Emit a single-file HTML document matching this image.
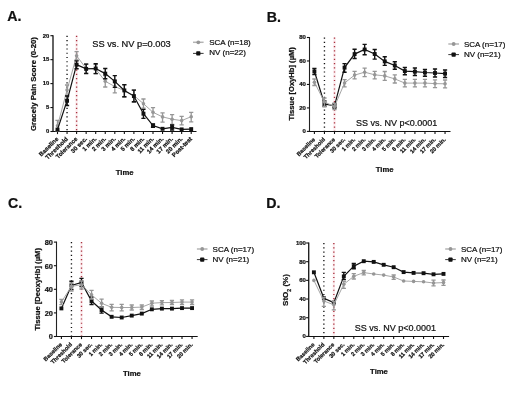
<!DOCTYPE html>
<html><head><meta charset="utf-8"><style>
html,body{margin:0;padding:0;background:#fff;}
svg{display:block;font-family:"Liberation Sans", sans-serif;will-change:transform;} text{stroke:#111;stroke-width:0.22px;} text.b{stroke-width:0.12px;}
</style></head><body>
<svg width="520" height="393" viewBox="0 0 520 393" fill="#111">
<rect width="520" height="393" fill="#fff"/>
<text x="7.2" y="20.7" font-size="14.2" font-weight="bold">A.</text>
<line x1="67.05" y1="35.7" x2="67.05" y2="131.5" stroke="#111" stroke-width="1.35" stroke-dasharray="1.2 3.04"/>
<line x1="76.6" y1="35.7" x2="76.6" y2="131.5" stroke="#fcedef" stroke-width="2.4"/>
<line x1="76.6" y1="35.7" x2="76.6" y2="131.5" stroke="#a8303e" stroke-width="1.35" stroke-dasharray="1.2 3.04"/>
<path d="M53 35.2V131.5" fill="none" stroke="#222" stroke-width="1.4"/>
<path d="M52.5 131.5H196.5" fill="none" stroke="#111" stroke-width="1.05"/>
<line x1="50.4" y1="131.5" x2="53" y2="131.5" stroke="#111" stroke-width="1.1"/>
<text x="49.4" y="133.33" font-size="5.9" font-weight="bold" text-anchor="end">0</text>
<line x1="50.4" y1="107.55" x2="53" y2="107.55" stroke="#111" stroke-width="1.1"/>
<text x="49.4" y="109.38" font-size="5.9" font-weight="bold" text-anchor="end">5</text>
<line x1="50.4" y1="83.6" x2="53" y2="83.6" stroke="#111" stroke-width="1.1"/>
<text x="49.4" y="85.43" font-size="5.9" font-weight="bold" text-anchor="end">10</text>
<line x1="50.4" y1="59.65" x2="53" y2="59.65" stroke="#111" stroke-width="1.1"/>
<text x="49.4" y="61.48" font-size="5.9" font-weight="bold" text-anchor="end">15</text>
<line x1="50.4" y1="35.7" x2="53" y2="35.7" stroke="#111" stroke-width="1.1"/>
<text x="49.4" y="37.53" font-size="5.9" font-weight="bold" text-anchor="end">20</text>
<line x1="57.5" y1="131.5" x2="57.5" y2="134.1" stroke="#111" stroke-width="1.1"/>
<line x1="67.05" y1="131.5" x2="67.05" y2="134.1" stroke="#111" stroke-width="1.1"/>
<line x1="76.6" y1="131.5" x2="76.6" y2="134.1" stroke="#111" stroke-width="1.1"/>
<line x1="86.15" y1="131.5" x2="86.15" y2="134.1" stroke="#111" stroke-width="1.1"/>
<line x1="95.7" y1="131.5" x2="95.7" y2="134.1" stroke="#111" stroke-width="1.1"/>
<line x1="105.25" y1="131.5" x2="105.25" y2="134.1" stroke="#111" stroke-width="1.1"/>
<line x1="114.8" y1="131.5" x2="114.8" y2="134.1" stroke="#111" stroke-width="1.1"/>
<line x1="124.35" y1="131.5" x2="124.35" y2="134.1" stroke="#111" stroke-width="1.1"/>
<line x1="133.9" y1="131.5" x2="133.9" y2="134.1" stroke="#111" stroke-width="1.1"/>
<line x1="143.45" y1="131.5" x2="143.45" y2="134.1" stroke="#111" stroke-width="1.1"/>
<line x1="153" y1="131.5" x2="153" y2="134.1" stroke="#111" stroke-width="1.1"/>
<line x1="162.55" y1="131.5" x2="162.55" y2="134.1" stroke="#111" stroke-width="1.1"/>
<line x1="172.1" y1="131.5" x2="172.1" y2="134.1" stroke="#111" stroke-width="1.1"/>
<line x1="181.65" y1="131.5" x2="181.65" y2="134.1" stroke="#111" stroke-width="1.1"/>
<line x1="191.2" y1="131.5" x2="191.2" y2="134.1" stroke="#111" stroke-width="1.1"/>
<text transform="translate(58.8 139.3) rotate(-45)" font-size="6.0" font-weight="bold" text-anchor="end">Baseline</text>
<text transform="translate(68.35 139.3) rotate(-45)" font-size="6.0" font-weight="bold" text-anchor="end">Threshold</text>
<text transform="translate(77.9 139.3) rotate(-45)" font-size="6.0" font-weight="bold" text-anchor="end">Tolerance</text>
<text transform="translate(87.45 139.3) rotate(-45)" font-size="6.0" font-weight="bold" text-anchor="end">30 sec.</text>
<text transform="translate(97 139.3) rotate(-45)" font-size="6.0" font-weight="bold" text-anchor="end">1 min.</text>
<text transform="translate(106.55 139.3) rotate(-45)" font-size="6.0" font-weight="bold" text-anchor="end">2 min.</text>
<text transform="translate(116.1 139.3) rotate(-45)" font-size="6.0" font-weight="bold" text-anchor="end">3 min.</text>
<text transform="translate(125.65 139.3) rotate(-45)" font-size="6.0" font-weight="bold" text-anchor="end">4 min.</text>
<text transform="translate(135.2 139.3) rotate(-45)" font-size="6.0" font-weight="bold" text-anchor="end">5 min.</text>
<text transform="translate(144.75 139.3) rotate(-45)" font-size="6.0" font-weight="bold" text-anchor="end">8 min.</text>
<text transform="translate(154.3 139.3) rotate(-45)" font-size="6.0" font-weight="bold" text-anchor="end">11 min.</text>
<text transform="translate(163.85 139.3) rotate(-45)" font-size="6.0" font-weight="bold" text-anchor="end">14 min.</text>
<text transform="translate(173.4 139.3) rotate(-45)" font-size="6.0" font-weight="bold" text-anchor="end">17 min.</text>
<text transform="translate(182.95 139.3) rotate(-45)" font-size="6.0" font-weight="bold" text-anchor="end">20 min.</text>
<text transform="translate(192.5 139.3) rotate(-45)" font-size="6.0" font-weight="bold" text-anchor="end">Post-test</text>
<polyline points="57.5,125.8 67.05,90 76.6,55.8 86.15,68.5 95.7,69 105.25,81.3 114.8,86.5 124.35,90.6 133.9,95.5 143.45,103.7 153,112.3 162.55,116.9 172.1,119.2 181.65,120.6 191.2,116.7" fill="none" stroke="#a6a6a6" stroke-width="1.0"/>
<path d="M57.5 120.4V131M55.4 120.4H59.6M55.4 131H59.6" stroke="#969696" stroke-width="1.3" fill="none"/>
<circle cx="57.5" cy="125.8" r="1.8" fill="#969696"/>
<path d="M67.05 85V95.5M64.95 85H69.15M64.95 95.5H69.15" stroke="#969696" stroke-width="1.3" fill="none"/>
<circle cx="67.05" cy="90" r="1.8" fill="#969696"/>
<path d="M76.6 51.6V60M74.5 51.6H78.7M74.5 60H78.7" stroke="#969696" stroke-width="1.3" fill="none"/>
<circle cx="76.6" cy="55.8" r="1.8" fill="#969696"/>
<path d="M86.15 64V73M84.05 64H88.25M84.05 73H88.25" stroke="#969696" stroke-width="1.3" fill="none"/>
<circle cx="86.15" cy="68.5" r="1.8" fill="#969696"/>
<path d="M95.7 64.5V73.5M93.6 64.5H97.8M93.6 73.5H97.8" stroke="#969696" stroke-width="1.3" fill="none"/>
<circle cx="95.7" cy="69" r="1.8" fill="#969696"/>
<path d="M105.25 75.6V87M103.15 75.6H107.35M103.15 87H107.35" stroke="#969696" stroke-width="1.3" fill="none"/>
<circle cx="105.25" cy="81.3" r="1.8" fill="#969696"/>
<path d="M114.8 80.5V92.9M112.7 80.5H116.9M112.7 92.9H116.9" stroke="#969696" stroke-width="1.3" fill="none"/>
<circle cx="114.8" cy="86.5" r="1.8" fill="#969696"/>
<path d="M124.35 85V97M122.25 85H126.45M122.25 97H126.45" stroke="#969696" stroke-width="1.3" fill="none"/>
<circle cx="124.35" cy="90.6" r="1.8" fill="#969696"/>
<path d="M133.9 90V102.4M131.8 90H136M131.8 102.4H136" stroke="#969696" stroke-width="1.3" fill="none"/>
<circle cx="133.9" cy="95.5" r="1.8" fill="#969696"/>
<path d="M143.45 99V108.2M141.35 99H145.55M141.35 108.2H145.55" stroke="#969696" stroke-width="1.3" fill="none"/>
<circle cx="143.45" cy="103.7" r="1.8" fill="#969696"/>
<path d="M153 107.7V116.9M150.9 107.7H155.1M150.9 116.9H155.1" stroke="#969696" stroke-width="1.3" fill="none"/>
<circle cx="153" cy="112.3" r="1.8" fill="#969696"/>
<path d="M162.55 112.9V122.1M160.45 112.9H164.65M160.45 122.1H164.65" stroke="#969696" stroke-width="1.3" fill="none"/>
<circle cx="162.55" cy="116.9" r="1.8" fill="#969696"/>
<path d="M172.1 114.6V124.4M170 114.6H174.2M170 124.4H174.2" stroke="#969696" stroke-width="1.3" fill="none"/>
<circle cx="172.1" cy="119.2" r="1.8" fill="#969696"/>
<path d="M181.65 116.3V124.8M179.55 116.3H183.75M179.55 124.8H183.75" stroke="#969696" stroke-width="1.3" fill="none"/>
<circle cx="181.65" cy="120.6" r="1.8" fill="#969696"/>
<path d="M191.2 112.3V121.8M189.1 112.3H193.3M189.1 121.8H193.3" stroke="#969696" stroke-width="1.3" fill="none"/>
<circle cx="191.2" cy="116.7" r="1.8" fill="#969696"/>
<polyline points="57.5,129.6 67.05,100.8 76.6,64.7 86.15,68.9 95.7,68.5 105.25,73.6 114.8,81.4 124.35,90.4 133.9,96.1 143.45,113.7 153,125.6 162.55,128.8 172.1,127.3 181.65,129.4 191.2,129.1" fill="none" stroke="#111" stroke-width="1.2"/>
<rect x="55.55" y="127.65" width="3.9" height="3.9" fill="#111"/>
<path d="M67.05 96V105.5M64.95 96H69.15M64.95 105.5H69.15" stroke="#111" stroke-width="1.4" fill="none"/>
<rect x="65.1" y="98.85" width="3.9" height="3.9" fill="#111"/>
<path d="M76.6 60.9V68.8M74.5 60.9H78.7M74.5 68.8H78.7" stroke="#111" stroke-width="1.4" fill="none"/>
<rect x="74.65" y="62.75" width="3.9" height="3.9" fill="#111"/>
<path d="M86.15 64.1V73.6M84.05 64.1H88.25M84.05 73.6H88.25" stroke="#111" stroke-width="1.4" fill="none"/>
<rect x="84.2" y="66.95" width="3.9" height="3.9" fill="#111"/>
<path d="M95.7 63.7V73.6M93.6 63.7H97.8M93.6 73.6H97.8" stroke="#111" stroke-width="1.4" fill="none"/>
<rect x="93.75" y="66.55" width="3.9" height="3.9" fill="#111"/>
<path d="M105.25 68.5V78.7M103.15 68.5H107.35M103.15 78.7H107.35" stroke="#111" stroke-width="1.4" fill="none"/>
<rect x="103.3" y="71.65" width="3.9" height="3.9" fill="#111"/>
<path d="M114.8 75.6V87.4M112.7 75.6H116.9M112.7 87.4H116.9" stroke="#111" stroke-width="1.4" fill="none"/>
<rect x="112.85" y="79.45" width="3.9" height="3.9" fill="#111"/>
<path d="M124.35 84.6V96.7M122.25 84.6H126.45M122.25 96.7H126.45" stroke="#111" stroke-width="1.4" fill="none"/>
<rect x="122.4" y="88.45" width="3.9" height="3.9" fill="#111"/>
<path d="M133.9 90.1V101.8M131.8 90.1H136M131.8 101.8H136" stroke="#111" stroke-width="1.4" fill="none"/>
<rect x="131.95" y="94.15" width="3.9" height="3.9" fill="#111"/>
<path d="M143.45 109.4V118.4M141.35 109.4H145.55M141.35 118.4H145.55" stroke="#111" stroke-width="1.4" fill="none"/>
<rect x="141.5" y="111.75" width="3.9" height="3.9" fill="#111"/>
<path d="M153 124V127.2M150.9 124H155.1M150.9 127.2H155.1" stroke="#111" stroke-width="1.4" fill="none"/>
<rect x="151.05" y="123.65" width="3.9" height="3.9" fill="#111"/>
<rect x="160.6" y="126.85" width="3.9" height="3.9" fill="#111"/>
<path d="M172.1 125V130M170 125H174.2M170 130H174.2" stroke="#111" stroke-width="1.4" fill="none"/>
<rect x="170.15" y="125.35" width="3.9" height="3.9" fill="#111"/>
<rect x="179.7" y="127.45" width="3.9" height="3.9" fill="#111"/>
<rect x="189.25" y="127.15" width="3.9" height="3.9" fill="#111"/>
<line x1="193" y1="42.3" x2="203.6" y2="42.3" stroke="#b4b4b4" stroke-width="1.5"/>
<circle cx="198.3" cy="42.3" r="1.9" fill="#969696"/>
<line x1="193" y1="53.4" x2="203.6" y2="53.4" stroke="#222" stroke-width="0.9"/>
<rect x="196.2" y="51.3" width="4.2" height="4.2" rx="0.8" fill="#111"/>
<text x="209.2" y="44.7" font-size="8">SCA (n=18)</text>
<text x="209.2" y="55.2" font-size="8">NV (n=22)</text>
<text x="92.3" y="47.3" font-size="9.25">SS vs. NV p=0.003</text>
<text transform="translate(35.9 84.1) rotate(-90)" font-size="7.8" font-weight="bold" text-anchor="middle">Gracely Pain Score (0-20)</text>
<text x="124.6" y="174.8" font-size="7.7" font-weight="bold" text-anchor="middle">Time</text>
<text x="266.7" y="21.7" font-size="14.2" font-weight="bold">B.</text>
<line x1="324.45" y1="37.5" x2="324.45" y2="131.4" stroke="#111" stroke-width="1.35" stroke-dasharray="1.2 3.04"/>
<line x1="334.5" y1="37.5" x2="334.5" y2="131.4" stroke="#fcedef" stroke-width="2.4"/>
<line x1="334.5" y1="37.5" x2="334.5" y2="131.4" stroke="#a8303e" stroke-width="1.35" stroke-dasharray="1.2 3.04"/>
<path d="M309.5 37V131.4" fill="none" stroke="#222" stroke-width="1.1"/>
<path d="M309 131.4H450.5" fill="none" stroke="#111" stroke-width="1.05"/>
<line x1="306.9" y1="131.4" x2="309.5" y2="131.4" stroke="#111" stroke-width="1.1"/>
<text x="305.9" y="133.26" font-size="6.0" font-weight="bold" text-anchor="end">0</text>
<line x1="306.9" y1="107.93" x2="309.5" y2="107.93" stroke="#111" stroke-width="1.1"/>
<text x="305.9" y="109.79" font-size="6.0" font-weight="bold" text-anchor="end">20</text>
<line x1="306.9" y1="84.45" x2="309.5" y2="84.45" stroke="#111" stroke-width="1.1"/>
<text x="305.9" y="86.31" font-size="6.0" font-weight="bold" text-anchor="end">40</text>
<line x1="306.9" y1="60.97" x2="309.5" y2="60.97" stroke="#111" stroke-width="1.1"/>
<text x="305.9" y="62.83" font-size="6.0" font-weight="bold" text-anchor="end">60</text>
<line x1="306.9" y1="37.5" x2="309.5" y2="37.5" stroke="#111" stroke-width="1.1"/>
<text x="305.9" y="39.36" font-size="6.0" font-weight="bold" text-anchor="end">80</text>
<line x1="314.4" y1="131.4" x2="314.4" y2="134" stroke="#111" stroke-width="1.1"/>
<line x1="324.45" y1="131.4" x2="324.45" y2="134" stroke="#111" stroke-width="1.1"/>
<line x1="334.5" y1="131.4" x2="334.5" y2="134" stroke="#111" stroke-width="1.1"/>
<line x1="344.55" y1="131.4" x2="344.55" y2="134" stroke="#111" stroke-width="1.1"/>
<line x1="354.6" y1="131.4" x2="354.6" y2="134" stroke="#111" stroke-width="1.1"/>
<line x1="364.65" y1="131.4" x2="364.65" y2="134" stroke="#111" stroke-width="1.1"/>
<line x1="374.7" y1="131.4" x2="374.7" y2="134" stroke="#111" stroke-width="1.1"/>
<line x1="384.75" y1="131.4" x2="384.75" y2="134" stroke="#111" stroke-width="1.1"/>
<line x1="394.8" y1="131.4" x2="394.8" y2="134" stroke="#111" stroke-width="1.1"/>
<line x1="404.85" y1="131.4" x2="404.85" y2="134" stroke="#111" stroke-width="1.1"/>
<line x1="414.9" y1="131.4" x2="414.9" y2="134" stroke="#111" stroke-width="1.1"/>
<line x1="424.95" y1="131.4" x2="424.95" y2="134" stroke="#111" stroke-width="1.1"/>
<line x1="435" y1="131.4" x2="435" y2="134" stroke="#111" stroke-width="1.1"/>
<line x1="445.05" y1="131.4" x2="445.05" y2="134" stroke="#111" stroke-width="1.1"/>
<text transform="translate(315.5 139.9) rotate(-45)" font-size="5.7" font-weight="bold" text-anchor="end">Baseline</text>
<text transform="translate(325.55 139.9) rotate(-45)" font-size="5.7" font-weight="bold" text-anchor="end">Threshold</text>
<text transform="translate(335.6 139.9) rotate(-45)" font-size="5.7" font-weight="bold" text-anchor="end">Tolerance</text>
<text transform="translate(345.65 139.9) rotate(-45)" font-size="5.7" font-weight="bold" text-anchor="end">30 sec.</text>
<text transform="translate(355.7 139.9) rotate(-45)" font-size="5.7" font-weight="bold" text-anchor="end">1 min.</text>
<text transform="translate(365.75 139.9) rotate(-45)" font-size="5.7" font-weight="bold" text-anchor="end">2 min.</text>
<text transform="translate(375.8 139.9) rotate(-45)" font-size="5.7" font-weight="bold" text-anchor="end">3 min.</text>
<text transform="translate(385.85 139.9) rotate(-45)" font-size="5.7" font-weight="bold" text-anchor="end">4 min.</text>
<text transform="translate(395.9 139.9) rotate(-45)" font-size="5.7" font-weight="bold" text-anchor="end">5 min.</text>
<text transform="translate(405.95 139.9) rotate(-45)" font-size="5.7" font-weight="bold" text-anchor="end">8 min.</text>
<text transform="translate(416 139.9) rotate(-45)" font-size="5.7" font-weight="bold" text-anchor="end">11 min.</text>
<text transform="translate(426.05 139.9) rotate(-45)" font-size="5.7" font-weight="bold" text-anchor="end">14 min.</text>
<text transform="translate(436.1 139.9) rotate(-45)" font-size="5.7" font-weight="bold" text-anchor="end">17 min.</text>
<text transform="translate(446.15 139.9) rotate(-45)" font-size="5.7" font-weight="bold" text-anchor="end">20 min.</text>
<polyline points="314.4,71.3 324.45,104 334.5,105.8 344.55,67.6 354.6,54.1 364.65,49.5 374.7,54 384.75,61.4 394.8,65.5 404.85,71.1 414.9,71.7 424.95,72.5 435,73 445.05,73.6" fill="none" stroke="#111" stroke-width="1.2"/>
<path d="M314.4 68.4V74.5M312.3 68.4H316.5M312.3 74.5H316.5" stroke="#111" stroke-width="1.4" fill="none"/>
<rect x="312.45" y="69.35" width="3.9" height="3.9" fill="#111"/>
<path d="M324.45 101V106.5M322.35 101H326.55M322.35 106.5H326.55" stroke="#111" stroke-width="1.4" fill="none"/>
<rect x="322.5" y="102.05" width="3.9" height="3.9" fill="#111"/>
<path d="M334.5 103.5V108M332.4 103.5H336.6M332.4 108H336.6" stroke="#111" stroke-width="1.4" fill="none"/>
<rect x="332.55" y="103.85" width="3.9" height="3.9" fill="#111"/>
<path d="M344.55 63.6V72.2M342.45 63.6H346.65M342.45 72.2H346.65" stroke="#111" stroke-width="1.4" fill="none"/>
<rect x="342.6" y="65.65" width="3.9" height="3.9" fill="#111"/>
<path d="M354.6 49.2V58.5M352.5 49.2H356.7M352.5 58.5H356.7" stroke="#111" stroke-width="1.4" fill="none"/>
<rect x="352.65" y="52.15" width="3.9" height="3.9" fill="#111"/>
<path d="M364.65 44.4V54.8M362.55 44.4H366.75M362.55 54.8H366.75" stroke="#111" stroke-width="1.4" fill="none"/>
<rect x="362.7" y="47.55" width="3.9" height="3.9" fill="#111"/>
<path d="M374.7 49.5V59.1M372.6 49.5H376.8M372.6 59.1H376.8" stroke="#111" stroke-width="1.4" fill="none"/>
<rect x="372.75" y="52.05" width="3.9" height="3.9" fill="#111"/>
<path d="M384.75 56.8V65.4M382.65 56.8H386.85M382.65 65.4H386.85" stroke="#111" stroke-width="1.4" fill="none"/>
<rect x="382.8" y="59.45" width="3.9" height="3.9" fill="#111"/>
<path d="M394.8 61.7V69.3M392.7 61.7H396.9M392.7 69.3H396.9" stroke="#111" stroke-width="1.4" fill="none"/>
<rect x="392.85" y="63.55" width="3.9" height="3.9" fill="#111"/>
<path d="M404.85 67.5V74.8M402.75 67.5H406.95M402.75 74.8H406.95" stroke="#111" stroke-width="1.4" fill="none"/>
<rect x="402.9" y="69.15" width="3.9" height="3.9" fill="#111"/>
<path d="M414.9 68V75.5M412.8 68H417M412.8 75.5H417" stroke="#111" stroke-width="1.4" fill="none"/>
<rect x="412.95" y="69.75" width="3.9" height="3.9" fill="#111"/>
<path d="M424.95 69.4V76.3M422.85 69.4H427.05M422.85 76.3H427.05" stroke="#111" stroke-width="1.4" fill="none"/>
<rect x="423" y="70.55" width="3.9" height="3.9" fill="#111"/>
<path d="M435 69V77M432.9 69H437.1M432.9 77H437.1" stroke="#111" stroke-width="1.4" fill="none"/>
<rect x="433.05" y="71.05" width="3.9" height="3.9" fill="#111"/>
<path d="M445.05 70V77.5M442.95 70H447.15M442.95 77.5H447.15" stroke="#111" stroke-width="1.4" fill="none"/>
<rect x="443.1" y="71.65" width="3.9" height="3.9" fill="#111"/>
<polyline points="314.4,82.2 324.45,102 334.5,106.5 344.55,83 354.6,75.1 364.65,72.2 374.7,74.8 384.75,75.9 394.8,78.9 404.85,83.1 414.9,83.1 424.95,83.1 435,83.6 445.05,83.8" fill="none" stroke="#a6a6a6" stroke-width="1.0"/>
<path d="M314.4 79V85.5M312.3 79H316.5M312.3 85.5H316.5" stroke="#969696" stroke-width="1.3" fill="none"/>
<circle cx="314.4" cy="82.2" r="1.8" fill="#969696"/>
<path d="M324.45 98V106.4M322.35 98H326.55M322.35 106.4H326.55" stroke="#969696" stroke-width="1.3" fill="none"/>
<circle cx="324.45" cy="102" r="1.8" fill="#969696"/>
<path d="M334.5 103.6V109.6M332.4 103.6H336.6M332.4 109.6H336.6" stroke="#969696" stroke-width="1.3" fill="none"/>
<circle cx="334.5" cy="106.5" r="1.8" fill="#969696"/>
<path d="M344.55 79.6V86.8M342.45 79.6H346.65M342.45 86.8H346.65" stroke="#969696" stroke-width="1.3" fill="none"/>
<circle cx="344.55" cy="83" r="1.8" fill="#969696"/>
<path d="M354.6 71.3V78.9M352.5 71.3H356.7M352.5 78.9H356.7" stroke="#969696" stroke-width="1.3" fill="none"/>
<circle cx="354.6" cy="75.1" r="1.8" fill="#969696"/>
<path d="M364.65 68.2V76.6M362.55 68.2H366.75M362.55 76.6H366.75" stroke="#969696" stroke-width="1.3" fill="none"/>
<circle cx="364.65" cy="72.2" r="1.8" fill="#969696"/>
<path d="M374.7 71.3V78.9M372.6 71.3H376.8M372.6 78.9H376.8" stroke="#969696" stroke-width="1.3" fill="none"/>
<circle cx="374.7" cy="74.8" r="1.8" fill="#969696"/>
<path d="M384.75 71.5V80.3M382.65 71.5H386.85M382.65 80.3H386.85" stroke="#969696" stroke-width="1.3" fill="none"/>
<circle cx="384.75" cy="75.9" r="1.8" fill="#969696"/>
<path d="M394.8 74.8V83M392.7 74.8H396.9M392.7 83H396.9" stroke="#969696" stroke-width="1.3" fill="none"/>
<circle cx="394.8" cy="78.9" r="1.8" fill="#969696"/>
<path d="M404.85 79.4V86.9M402.75 79.4H406.95M402.75 86.9H406.95" stroke="#969696" stroke-width="1.3" fill="none"/>
<circle cx="404.85" cy="83.1" r="1.8" fill="#969696"/>
<path d="M414.9 79.4V86.9M412.8 79.4H417M412.8 86.9H417" stroke="#969696" stroke-width="1.3" fill="none"/>
<circle cx="414.9" cy="83.1" r="1.8" fill="#969696"/>
<path d="M424.95 79.4V86.9M422.85 79.4H427.05M422.85 86.9H427.05" stroke="#969696" stroke-width="1.3" fill="none"/>
<circle cx="424.95" cy="83.1" r="1.8" fill="#969696"/>
<path d="M435 79.8V87.6M432.9 79.8H437.1M432.9 87.6H437.1" stroke="#969696" stroke-width="1.3" fill="none"/>
<circle cx="435" cy="83.6" r="1.8" fill="#969696"/>
<path d="M445.05 80V87.8M442.95 80H447.15M442.95 87.8H447.15" stroke="#969696" stroke-width="1.3" fill="none"/>
<circle cx="445.05" cy="83.8" r="1.8" fill="#969696"/>
<line x1="448.3" y1="44" x2="459" y2="44" stroke="#b4b4b4" stroke-width="1.5"/>
<circle cx="453.65" cy="44" r="1.9" fill="#969696"/>
<line x1="448.3" y1="54.6" x2="459" y2="54.6" stroke="#222" stroke-width="0.9"/>
<rect x="451.55" y="52.5" width="4.2" height="4.2" rx="0.8" fill="#111"/>
<text x="463.9" y="46.7" font-size="8">SCA (n=17)</text>
<text x="463.9" y="57.2" font-size="8">NV (n=21)</text>
<text x="356" y="125.7" font-size="9">SS vs. NV p&lt;0.0001</text>
<text transform="translate(294.2 83.85) rotate(-90)" font-size="7.6" font-weight="bold" text-anchor="middle">Tissue [OxyHb] (µM)</text>
<text x="384.7" y="171.8" font-size="7.7" font-weight="bold" text-anchor="middle">Time</text>
<text x="7.9" y="208.4" font-size="14.2" font-weight="bold">C.</text>
<line x1="71.45" y1="242.1" x2="71.45" y2="336.5" stroke="#111" stroke-width="1.35" stroke-dasharray="1.2 3.04"/>
<line x1="81.5" y1="242.1" x2="81.5" y2="336.5" stroke="#fcedef" stroke-width="2.4"/>
<line x1="81.5" y1="242.1" x2="81.5" y2="336.5" stroke="#a8303e" stroke-width="1.35" stroke-dasharray="1.2 3.04"/>
<path d="M56.5 241.6V336.5" fill="none" stroke="#222" stroke-width="1.1"/>
<path d="M56 336.5H197.7" fill="none" stroke="#111" stroke-width="1.05"/>
<line x1="53.9" y1="336.5" x2="56.5" y2="336.5" stroke="#111" stroke-width="1.1"/>
<text x="52.9" y="339.39" font-size="7.4" font-weight="bold" text-anchor="end">0</text>
<line x1="53.9" y1="312.9" x2="56.5" y2="312.9" stroke="#111" stroke-width="1.1"/>
<text x="52.9" y="315.79" font-size="7.4" font-weight="bold" text-anchor="end">20</text>
<line x1="53.9" y1="289.3" x2="56.5" y2="289.3" stroke="#111" stroke-width="1.1"/>
<text x="52.9" y="292.19" font-size="7.4" font-weight="bold" text-anchor="end">40</text>
<line x1="53.9" y1="265.7" x2="56.5" y2="265.7" stroke="#111" stroke-width="1.1"/>
<text x="52.9" y="268.59" font-size="7.4" font-weight="bold" text-anchor="end">60</text>
<line x1="53.9" y1="242.1" x2="56.5" y2="242.1" stroke="#111" stroke-width="1.1"/>
<text x="52.9" y="244.99" font-size="7.4" font-weight="bold" text-anchor="end">80</text>
<line x1="61.4" y1="336.5" x2="61.4" y2="339.1" stroke="#111" stroke-width="1.1"/>
<line x1="71.45" y1="336.5" x2="71.45" y2="339.1" stroke="#111" stroke-width="1.1"/>
<line x1="81.5" y1="336.5" x2="81.5" y2="339.1" stroke="#111" stroke-width="1.1"/>
<line x1="91.55" y1="336.5" x2="91.55" y2="339.1" stroke="#111" stroke-width="1.1"/>
<line x1="101.6" y1="336.5" x2="101.6" y2="339.1" stroke="#111" stroke-width="1.1"/>
<line x1="111.65" y1="336.5" x2="111.65" y2="339.1" stroke="#111" stroke-width="1.1"/>
<line x1="121.7" y1="336.5" x2="121.7" y2="339.1" stroke="#111" stroke-width="1.1"/>
<line x1="131.75" y1="336.5" x2="131.75" y2="339.1" stroke="#111" stroke-width="1.1"/>
<line x1="141.8" y1="336.5" x2="141.8" y2="339.1" stroke="#111" stroke-width="1.1"/>
<line x1="151.85" y1="336.5" x2="151.85" y2="339.1" stroke="#111" stroke-width="1.1"/>
<line x1="161.9" y1="336.5" x2="161.9" y2="339.1" stroke="#111" stroke-width="1.1"/>
<line x1="171.95" y1="336.5" x2="171.95" y2="339.1" stroke="#111" stroke-width="1.1"/>
<line x1="182" y1="336.5" x2="182" y2="339.1" stroke="#111" stroke-width="1.1"/>
<line x1="192.05" y1="336.5" x2="192.05" y2="339.1" stroke="#111" stroke-width="1.1"/>
<text transform="translate(62.4 344.9) rotate(-45)" font-size="5.7" font-weight="bold" text-anchor="end">Baseline</text>
<text transform="translate(72.45 344.9) rotate(-45)" font-size="5.7" font-weight="bold" text-anchor="end">Threshold</text>
<text transform="translate(82.5 344.9) rotate(-45)" font-size="5.7" font-weight="bold" text-anchor="end">Tolerance</text>
<text transform="translate(92.55 344.9) rotate(-45)" font-size="5.7" font-weight="bold" text-anchor="end">30 sec.</text>
<text transform="translate(102.6 344.9) rotate(-45)" font-size="5.7" font-weight="bold" text-anchor="end">1 min.</text>
<text transform="translate(112.65 344.9) rotate(-45)" font-size="5.7" font-weight="bold" text-anchor="end">2 min.</text>
<text transform="translate(122.7 344.9) rotate(-45)" font-size="5.7" font-weight="bold" text-anchor="end">3 min.</text>
<text transform="translate(132.75 344.9) rotate(-45)" font-size="5.7" font-weight="bold" text-anchor="end">4 min.</text>
<text transform="translate(142.8 344.9) rotate(-45)" font-size="5.7" font-weight="bold" text-anchor="end">5 min.</text>
<text transform="translate(152.85 344.9) rotate(-45)" font-size="5.7" font-weight="bold" text-anchor="end">8 min.</text>
<text transform="translate(162.9 344.9) rotate(-45)" font-size="5.7" font-weight="bold" text-anchor="end">11 min.</text>
<text transform="translate(172.95 344.9) rotate(-45)" font-size="5.7" font-weight="bold" text-anchor="end">14 min.</text>
<text transform="translate(183 344.9) rotate(-45)" font-size="5.7" font-weight="bold" text-anchor="end">17 min.</text>
<text transform="translate(193.05 344.9) rotate(-45)" font-size="5.7" font-weight="bold" text-anchor="end">20 min.</text>
<polyline points="61.4,308.4 71.45,285.5 81.5,282.5 91.55,301 101.6,310 111.65,316.8 121.7,317.5 131.75,315.6 141.8,313.6 151.85,309.3 161.9,308.6 171.95,308.6 182,308.1 192.05,308.1" fill="none" stroke="#111" stroke-width="1.2"/>
<rect x="59.45" y="306.45" width="3.9" height="3.9" fill="#111"/>
<path d="M71.45 281.3V289.5M69.35 281.3H73.55M69.35 289.5H73.55" stroke="#111" stroke-width="1.4" fill="none"/>
<rect x="69.5" y="283.55" width="3.9" height="3.9" fill="#111"/>
<path d="M81.5 278.4V286.5M79.4 278.4H83.6M79.4 286.5H83.6" stroke="#111" stroke-width="1.4" fill="none"/>
<rect x="79.55" y="280.55" width="3.9" height="3.9" fill="#111"/>
<path d="M91.55 297V304.5M89.45 297H93.65M89.45 304.5H93.65" stroke="#111" stroke-width="1.4" fill="none"/>
<rect x="89.6" y="299.05" width="3.9" height="3.9" fill="#111"/>
<path d="M101.6 307V313.1M99.5 307H103.7M99.5 313.1H103.7" stroke="#111" stroke-width="1.4" fill="none"/>
<rect x="99.65" y="308.05" width="3.9" height="3.9" fill="#111"/>
<rect x="109.7" y="314.85" width="3.9" height="3.9" fill="#111"/>
<rect x="119.75" y="315.55" width="3.9" height="3.9" fill="#111"/>
<rect x="129.8" y="313.65" width="3.9" height="3.9" fill="#111"/>
<rect x="139.85" y="311.65" width="3.9" height="3.9" fill="#111"/>
<rect x="149.9" y="307.35" width="3.9" height="3.9" fill="#111"/>
<rect x="159.95" y="306.65" width="3.9" height="3.9" fill="#111"/>
<rect x="170" y="306.65" width="3.9" height="3.9" fill="#111"/>
<rect x="180.05" y="306.15" width="3.9" height="3.9" fill="#111"/>
<rect x="190.1" y="306.15" width="3.9" height="3.9" fill="#111"/>
<polyline points="61.4,302 71.45,286.3 81.5,284.8 91.55,294.8 101.6,303.3 111.65,307.3 121.7,307.5 131.75,307.5 141.8,307.1 151.85,303.2 161.9,302.6 171.95,302.5 182,302.1 192.05,302.1" fill="none" stroke="#a6a6a6" stroke-width="1.0"/>
<path d="M61.4 299.4V304.6M59.3 299.4H63.5M59.3 304.6H63.5" stroke="#969696" stroke-width="1.3" fill="none"/>
<circle cx="61.4" cy="302" r="1.8" fill="#969696"/>
<path d="M71.45 283V291M69.35 283H73.55M69.35 291H73.55" stroke="#969696" stroke-width="1.3" fill="none"/>
<circle cx="71.45" cy="286.3" r="1.8" fill="#969696"/>
<path d="M81.5 281V289M79.4 281H83.6M79.4 289H83.6" stroke="#969696" stroke-width="1.3" fill="none"/>
<circle cx="81.5" cy="284.8" r="1.8" fill="#969696"/>
<path d="M91.55 290.3V299M89.45 290.3H93.65M89.45 299H93.65" stroke="#969696" stroke-width="1.3" fill="none"/>
<circle cx="91.55" cy="294.8" r="1.8" fill="#969696"/>
<path d="M101.6 299.2V307M99.5 299.2H103.7M99.5 307H103.7" stroke="#969696" stroke-width="1.3" fill="none"/>
<circle cx="101.6" cy="303.3" r="1.8" fill="#969696"/>
<path d="M111.65 304.4V310.8M109.55 304.4H113.75M109.55 310.8H113.75" stroke="#969696" stroke-width="1.3" fill="none"/>
<circle cx="111.65" cy="307.3" r="1.8" fill="#969696"/>
<path d="M121.7 304.4V310.8M119.6 304.4H123.8M119.6 310.8H123.8" stroke="#969696" stroke-width="1.3" fill="none"/>
<circle cx="121.7" cy="307.5" r="1.8" fill="#969696"/>
<path d="M131.75 305V310M129.65 305H133.85M129.65 310H133.85" stroke="#969696" stroke-width="1.3" fill="none"/>
<circle cx="131.75" cy="307.5" r="1.8" fill="#969696"/>
<path d="M141.8 305V309.5M139.7 305H143.9M139.7 309.5H143.9" stroke="#969696" stroke-width="1.3" fill="none"/>
<circle cx="141.8" cy="307.1" r="1.8" fill="#969696"/>
<path d="M151.85 301V306M149.75 301H153.95M149.75 306H153.95" stroke="#969696" stroke-width="1.3" fill="none"/>
<circle cx="151.85" cy="303.2" r="1.8" fill="#969696"/>
<path d="M161.9 300.6V304.8M159.8 300.6H164M159.8 304.8H164" stroke="#969696" stroke-width="1.3" fill="none"/>
<circle cx="161.9" cy="302.6" r="1.8" fill="#969696"/>
<path d="M171.95 300.5V304.5M169.85 300.5H174.05M169.85 304.5H174.05" stroke="#969696" stroke-width="1.3" fill="none"/>
<circle cx="171.95" cy="302.5" r="1.8" fill="#969696"/>
<path d="M182 299.8V304.5M179.9 299.8H184.1M179.9 304.5H184.1" stroke="#969696" stroke-width="1.3" fill="none"/>
<circle cx="182" cy="302.1" r="1.8" fill="#969696"/>
<path d="M192.05 299.8V304.5M189.95 299.8H194.15M189.95 304.5H194.15" stroke="#969696" stroke-width="1.3" fill="none"/>
<circle cx="192.05" cy="302.1" r="1.8" fill="#969696"/>
<line x1="196.9" y1="249" x2="207.5" y2="249" stroke="#b4b4b4" stroke-width="1.5"/>
<circle cx="202.2" cy="249" r="1.9" fill="#969696"/>
<line x1="196.9" y1="259.6" x2="207.5" y2="259.6" stroke="#222" stroke-width="0.9"/>
<rect x="200.1" y="257.5" width="4.2" height="4.2" rx="0.8" fill="#111"/>
<text x="212.6" y="251.7" font-size="8">SCA (n=17)</text>
<text x="212.6" y="262.2" font-size="8">NV (n=21)</text>
<text transform="translate(40 289.25) rotate(-90)" font-size="7.65" font-weight="bold" text-anchor="middle">Tissue [DeoxyHb] (µM)</text>
<text x="131.9" y="376.3" font-size="7.7" font-weight="bold" text-anchor="middle">Time</text>
<text x="266.2" y="207.7" font-size="14.2" font-weight="bold">D.</text>
<line x1="323.87" y1="243" x2="323.87" y2="336.4" stroke="#111" stroke-width="1.35" stroke-dasharray="1.2 3.04"/>
<line x1="333.84" y1="243" x2="333.84" y2="336.4" stroke="#fcedef" stroke-width="2.4"/>
<line x1="333.84" y1="243" x2="333.84" y2="336.4" stroke="#a8303e" stroke-width="1.35" stroke-dasharray="1.2 3.04"/>
<path d="M308.7 242.5V336.4" fill="none" stroke="#222" stroke-width="1.4"/>
<path d="M308.2 336.4H449.1" fill="none" stroke="#111" stroke-width="1.05"/>
<line x1="306.1" y1="336.4" x2="308.7" y2="336.4" stroke="#111" stroke-width="1.1"/>
<text x="305.9" y="338.26" font-size="6.0" font-weight="bold" text-anchor="end">0</text>
<line x1="306.1" y1="317.72" x2="308.7" y2="317.72" stroke="#111" stroke-width="1.1"/>
<text x="305.9" y="319.58" font-size="6.0" font-weight="bold" text-anchor="end">20</text>
<line x1="306.1" y1="299.04" x2="308.7" y2="299.04" stroke="#111" stroke-width="1.1"/>
<text x="305.9" y="300.9" font-size="6.0" font-weight="bold" text-anchor="end">40</text>
<line x1="306.1" y1="280.36" x2="308.7" y2="280.36" stroke="#111" stroke-width="1.1"/>
<text x="305.9" y="282.22" font-size="6.0" font-weight="bold" text-anchor="end">60</text>
<line x1="306.1" y1="261.68" x2="308.7" y2="261.68" stroke="#111" stroke-width="1.1"/>
<text x="305.9" y="263.54" font-size="6.0" font-weight="bold" text-anchor="end">80</text>
<line x1="306.1" y1="243" x2="308.7" y2="243" stroke="#111" stroke-width="1.1"/>
<text x="305.9" y="244.86" font-size="6.0" font-weight="bold" text-anchor="end">100</text>
<line x1="313.9" y1="336.4" x2="313.9" y2="339" stroke="#111" stroke-width="1.1"/>
<line x1="323.87" y1="336.4" x2="323.87" y2="339" stroke="#111" stroke-width="1.1"/>
<line x1="333.84" y1="336.4" x2="333.84" y2="339" stroke="#111" stroke-width="1.1"/>
<line x1="343.81" y1="336.4" x2="343.81" y2="339" stroke="#111" stroke-width="1.1"/>
<line x1="353.78" y1="336.4" x2="353.78" y2="339" stroke="#111" stroke-width="1.1"/>
<line x1="363.75" y1="336.4" x2="363.75" y2="339" stroke="#111" stroke-width="1.1"/>
<line x1="373.72" y1="336.4" x2="373.72" y2="339" stroke="#111" stroke-width="1.1"/>
<line x1="383.69" y1="336.4" x2="383.69" y2="339" stroke="#111" stroke-width="1.1"/>
<line x1="393.66" y1="336.4" x2="393.66" y2="339" stroke="#111" stroke-width="1.1"/>
<line x1="403.63" y1="336.4" x2="403.63" y2="339" stroke="#111" stroke-width="1.1"/>
<line x1="413.6" y1="336.4" x2="413.6" y2="339" stroke="#111" stroke-width="1.1"/>
<line x1="423.57" y1="336.4" x2="423.57" y2="339" stroke="#111" stroke-width="1.1"/>
<line x1="433.54" y1="336.4" x2="433.54" y2="339" stroke="#111" stroke-width="1.1"/>
<line x1="443.51" y1="336.4" x2="443.51" y2="339" stroke="#111" stroke-width="1.1"/>
<text transform="translate(314.9 345) rotate(-45)" font-size="5.7" font-weight="bold" text-anchor="end">Baseline</text>
<text transform="translate(324.87 345) rotate(-45)" font-size="5.7" font-weight="bold" text-anchor="end">Threshold</text>
<text transform="translate(334.84 345) rotate(-45)" font-size="5.7" font-weight="bold" text-anchor="end">Tolerance</text>
<text transform="translate(344.81 345) rotate(-45)" font-size="5.7" font-weight="bold" text-anchor="end">30 sec.</text>
<text transform="translate(354.78 345) rotate(-45)" font-size="5.7" font-weight="bold" text-anchor="end">1 min.</text>
<text transform="translate(364.75 345) rotate(-45)" font-size="5.7" font-weight="bold" text-anchor="end">2 min.</text>
<text transform="translate(374.72 345) rotate(-45)" font-size="5.7" font-weight="bold" text-anchor="end">3 min.</text>
<text transform="translate(384.69 345) rotate(-45)" font-size="5.7" font-weight="bold" text-anchor="end">4 min.</text>
<text transform="translate(394.66 345) rotate(-45)" font-size="5.7" font-weight="bold" text-anchor="end">5 min.</text>
<text transform="translate(404.63 345) rotate(-45)" font-size="5.7" font-weight="bold" text-anchor="end">8 min.</text>
<text transform="translate(414.6 345) rotate(-45)" font-size="5.7" font-weight="bold" text-anchor="end">11 min.</text>
<text transform="translate(424.57 345) rotate(-45)" font-size="5.7" font-weight="bold" text-anchor="end">14 min.</text>
<text transform="translate(434.54 345) rotate(-45)" font-size="5.7" font-weight="bold" text-anchor="end">17 min.</text>
<text transform="translate(444.51 345) rotate(-45)" font-size="5.7" font-weight="bold" text-anchor="end">20 min.</text>
<polyline points="313.9,272.3 323.87,298.2 333.84,302.6 343.81,276.4 353.78,266.2 363.75,261.2 373.72,261.9 383.69,264.8 393.66,267.2 403.63,272.1 413.6,272.9 423.57,273.2 433.54,274.3 443.51,273.9" fill="none" stroke="#111" stroke-width="1.2"/>
<rect x="311.95" y="270.35" width="3.9" height="3.9" fill="#111"/>
<rect x="321.92" y="296.25" width="3.9" height="3.9" fill="#111"/>
<rect x="331.89" y="300.65" width="3.9" height="3.9" fill="#111"/>
<path d="M343.81 272.4V279.6M341.71 272.4H345.91M341.71 279.6H345.91" stroke="#111" stroke-width="1.4" fill="none"/>
<rect x="341.86" y="274.45" width="3.9" height="3.9" fill="#111"/>
<path d="M353.78 263.5V268.8M351.68 263.5H355.88M351.68 268.8H355.88" stroke="#111" stroke-width="1.4" fill="none"/>
<rect x="351.83" y="264.25" width="3.9" height="3.9" fill="#111"/>
<rect x="361.8" y="259.25" width="3.9" height="3.9" fill="#111"/>
<rect x="371.77" y="259.95" width="3.9" height="3.9" fill="#111"/>
<rect x="381.74" y="262.85" width="3.9" height="3.9" fill="#111"/>
<rect x="391.71" y="265.25" width="3.9" height="3.9" fill="#111"/>
<rect x="401.68" y="270.15" width="3.9" height="3.9" fill="#111"/>
<rect x="411.65" y="270.95" width="3.9" height="3.9" fill="#111"/>
<rect x="421.62" y="271.25" width="3.9" height="3.9" fill="#111"/>
<rect x="431.59" y="272.35" width="3.9" height="3.9" fill="#111"/>
<rect x="441.56" y="271.95" width="3.9" height="3.9" fill="#111"/>
<polyline points="313.9,280.4 323.87,301 333.84,304.8 343.81,284.3 353.78,276.3 363.75,272.6 373.72,274 383.69,275.1 393.66,277 403.63,281 413.6,281.4 423.57,281.8 433.54,283 443.51,282.6" fill="none" stroke="#a6a6a6" stroke-width="1.0"/>
<circle cx="313.9" cy="280.4" r="1.8" fill="#969696"/>
<path d="M323.87 297.5V306.3M321.77 297.5H325.97M321.77 306.3H325.97" stroke="#969696" stroke-width="1.3" fill="none"/>
<circle cx="323.87" cy="301" r="1.8" fill="#969696"/>
<path d="M333.84 301.5V309.9M331.74 301.5H335.94M331.74 309.9H335.94" stroke="#969696" stroke-width="1.3" fill="none"/>
<circle cx="333.84" cy="304.8" r="1.8" fill="#969696"/>
<path d="M343.81 281.3V288.4M341.71 281.3H345.91M341.71 288.4H345.91" stroke="#969696" stroke-width="1.3" fill="none"/>
<circle cx="343.81" cy="284.3" r="1.8" fill="#969696"/>
<path d="M353.78 273.6V279M351.68 273.6H355.88M351.68 279H355.88" stroke="#969696" stroke-width="1.3" fill="none"/>
<circle cx="353.78" cy="276.3" r="1.8" fill="#969696"/>
<path d="M363.75 270.5V274.8M361.65 270.5H365.85M361.65 274.8H365.85" stroke="#969696" stroke-width="1.3" fill="none"/>
<circle cx="363.75" cy="272.6" r="1.8" fill="#969696"/>
<circle cx="373.72" cy="274" r="1.8" fill="#969696"/>
<circle cx="383.69" cy="275.1" r="1.8" fill="#969696"/>
<path d="M393.66 275V279.3M391.56 275H395.76M391.56 279.3H395.76" stroke="#969696" stroke-width="1.3" fill="none"/>
<circle cx="393.66" cy="277" r="1.8" fill="#969696"/>
<circle cx="403.63" cy="281" r="1.8" fill="#969696"/>
<circle cx="413.6" cy="281.4" r="1.8" fill="#969696"/>
<circle cx="423.57" cy="281.8" r="1.8" fill="#969696"/>
<path d="M433.54 280.2V285.8M431.44 280.2H435.64M431.44 285.8H435.64" stroke="#969696" stroke-width="1.3" fill="none"/>
<circle cx="433.54" cy="283" r="1.8" fill="#969696"/>
<path d="M443.51 280V285.4M441.41 280H445.61M441.41 285.4H445.61" stroke="#969696" stroke-width="1.3" fill="none"/>
<circle cx="443.51" cy="282.6" r="1.8" fill="#969696"/>
<line x1="445.2" y1="249" x2="455.8" y2="249" stroke="#b4b4b4" stroke-width="1.5"/>
<circle cx="450.5" cy="249" r="1.9" fill="#969696"/>
<line x1="445.2" y1="259.6" x2="455.8" y2="259.6" stroke="#222" stroke-width="0.9"/>
<rect x="448.4" y="257.5" width="4.2" height="4.2" rx="0.8" fill="#111"/>
<text x="460.9" y="251.7" font-size="8">SCA (n=17)</text>
<text x="460.9" y="262.2" font-size="8">NV (n=21)</text>
<text x="354.7" y="330.9" font-size="9">SS vs. NV p&lt;0.0001</text>
<text transform="translate(288.4 290) rotate(-90)" font-size="8.0" font-weight="bold" text-anchor="middle">StO<tspan font-size="5.2" dy="2.2">2</tspan><tspan dy="-2.2"> (%)</tspan></text>
<text x="379" y="374.1" font-size="7.7" font-weight="bold" text-anchor="middle">Time</text>
</svg>
</body></html>
